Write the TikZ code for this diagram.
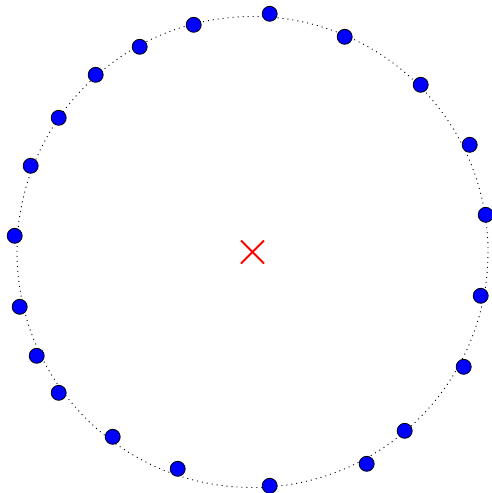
\documentclass[tikz,border=0pt]{standalone}
\usetikzlibrary{calc}

\tikzset{
  bead/.style={circle, draw=black, fill=blue, inner sep=0pt, minimum size=15pt, line width=0.8pt},
  orbit/.style={line width=0.9pt, dash pattern=on 1pt off 4pt},
  marker/.style={red, line width=1.8pt}
}

\begin{document}
\begin{tikzpicture}[x=1pt, y=-1pt]
  \useasboundingbox (0,0) rectangle (492,493);
  \coordinate (O) at (252.5, 252);

  % dotted circle
  \draw[orbit] (O) circle (235.5);

  % centre marker
  \draw[marker] ($(O)+(-11.5,-11.5)$) -- ($(O)+(11.5,11.5)$);
  \draw[marker] ($(O)+(-11.5,11.5)$) -- ($(O)+(11.5,-11.5)$);

  % points
  \foreach \px/\py [count=\i] in {269/13, 344/36, 420/84, 469/144, 485/214,
      480/295, 463/366, 404/430, 366/463, 269/485, 177/468, 112/436, 58/392,
      36/355, 19/306, 14/235, 30/165, 58/117, 95/74, 139/46, 193/24}
    \node[bead] (p\i) at (\px+0.7, \py+0.8) {};
\end{tikzpicture}
\end{document}
